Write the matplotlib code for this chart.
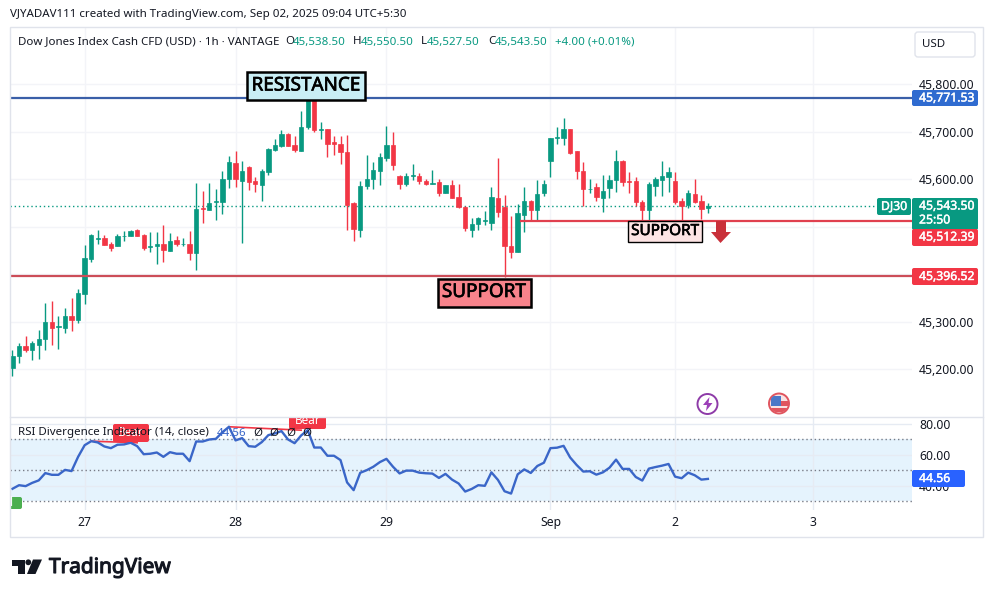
import matplotlib
matplotlib.use('Agg')
import matplotlib.pyplot as plt
import matplotlib.patheffects as pe
from matplotlib.patches import FancyBboxPatch, Rectangle, Circle, Polygon

plt.rcParams['font.family'] = ['Noto Sans', 'DejaVu Sans']

# candles
opens = [45203,45227,45248,45240,45250,45264,45298,45288,45286,45311,45303,45358,45431,45474,45476,45463,45458,45479,45479,45492,
         45482,45456,45458,45463,45449,45472,45463,45463,45445,45539,45535,45551,45552,45600,45633,45596,45625,45596,45588,45615,
         45661,45669,45695,45672,45660,45709,45775,45704,45706,45677,45674,45657,45550,45493,45585,45600,45617,45645,45671,45606,
         45589,45606,45606,45596,45590,45593,45571,45587,45562,45542,45493,45505,45512,45508,45561,45542,45459,45447,45525,45554,
         45535,45570,45637,45686,45687,45705,45658,45617,45579,45583,45561,45582,45598,45638,45596,45596,45552,45535,45586,45598,
         45604,45596,45554,45546,45569,45554,45538.5]
highs = [45239,45254,45269,45259,45283,45338,45343,45311,45328,45349,45368,45461,45484,45493,45482,45467,45484,45490,45492,45495,
         45484,45488,45489,45503,45486,45481,45475,45490,45591,45575,45591,45580,45617,45648,45659,45638,45627,45605,45622,45665,
         45684,45703,45696,45691,45743,45785,45785,45719,45706,45691,45691,45693,45552,45596,45651,45635,45654,45712,45698,45608,
         45612,45632,45613,45599,45620,45599,45587,45598,45589,45544,45517,45521,45533,45583,45644,45566,45522,45547,45583,45556,
         45598,45598,45686,45710,45728,45705,45659,45635,45601,45592,45608,45608,45661,45639,45615,45604,45556,45594,45604,45638,
         45625,45615,45559,45577,45600,45566,45550.5]
lows = [45185,45213,45236,45219,45222,45239,45250,45242,45276,45281,45297,45337,45426,45464,45461,45449,45458,45470,45479,45480,
        45450,45447,45421,45426,45448,45458,45459,45429,45408,45508,45535,45514,45526,45582,45584,45466,45577,45573,45554,45608,
        45658,45668,45669,45657,45660,45706,45698,45684,45647,45651,45632,45493,45470,45477,45579,45579,45587,45637,45618,45580,
        45585,45598,45590,45587,45590,45564,45571,45561,45540,45491,45477,45493,45503,45493,45519,45394,45434,45447,45489,45514,
        45514,45564,45605,45674,45672,45653,45600,45543,45571,45554,45531,45561,45573,45586,45570,45543,45512,45512,45565,45565,
        45573,45547,45512,45538,45550,45515,45527.5]
closes = [45227,45248,45239,45254,45264,45298,45287,45290,45311,45303,45359,45433,45482,45476,45462,45455,45480,45480,45490,45481,
          45455,45458,45463,45450,45469,45463,45464,45445,45536,45537,45549,45553,45601,45635,45599,45617,45593,45589,45617,45663,
          45672,45694,45670,45661,45709,45775,45703,45705,45674,45673,45656,45545,45495,45585,45601,45619,45646,45671,45630,45590,
          45606,45608,45596,45590,45591,45571,45587,45561,45541,45496,45505,45518,45513,45562,45531,45460,45446,45528,45553,45535,
          45568,45590,45686,45688,45705,45654,45616,45580,45580,45563,45575,45598,45638,45594,45594,45552,45535,45590,45600,45606,
          45615,45552,45543,45571,45552,45537,45543.5]

rsi_vals = [38.2,40.5,39.9,42.0,43.6,48.3,47.2,47.2,50.4,49.6,58.8,66.3,68.9,68.1,65.5,64.4,66.6,66.8,67.9,65.7,
            60.5,60.8,61.6,58.8,61.8,60.8,60.8,56.0,68.7,68.7,70.0,70.4,74.7,78.2,69.4,70.9,65.7,65.3,68.3,72.8,
            73.9,75.4,70.0,67.6,72.6,76.0,64.8,64.8,59.5,59.5,56.7,42.3,37.3,48.5,50.2,52.4,55.4,57.5,52.4,48.1,
            49.9,49.9,48.6,48.2,48.0,45.2,47.8,44.1,41.6,36.4,38.1,40.5,40.1,48.8,43.9,36.6,35.1,47.5,50.7,48.4,
            52.9,55.0,64.4,64.7,65.9,58.4,53.5,49.3,49.5,47.3,48.8,51.8,57.0,51.0,51.0,45.8,43.5,51.2,52.2,53.1,
            54.2,46.0,45.0,48.6,46.9,44.1,44.56]

price_ticks = [45200,45300,45400,45500,45600,45700,45800]
hidden_ticks = [45400,45500]
rsi_ticks = [40,60,80]
rsi_levels = [30,50,70]
time_pos = [11,34,57,82,101,122]
time_labels = ['27','28','29','Sep','2','3']

resistance = 45771.53
support_low = 45396.52
support_high = 45512.39
last_price = 45543.50

GREEN = '#089981'
RED = '#f23645'
GRID = '#f3f4f8'
W, H = 993, 597

def px_axes(x0, y0, x1, y1):
    return fig.add_axes([x0/W, 1-y1/H, (x1-x0)/W, (y1-y0)/H])

def tag(a, x0, y0, x1, y1, color, r=2, **kw):
    p = FancyBboxPatch((x0+r, y0+r), x1-x0-2*r, y1-y0-2*r, boxstyle='round,pad=%d,rounding_size=%d' % (r, r),
                       fc=color, ec='none', transform=ov.transData, **kw)
    a.add_patch(p)
    return p

def tag_text(x, y, s, **kw):
    t = ov.text(x, y, s, fontsize=8.8, color='white', va='center', **kw)
    t.set_path_effects([pe.withStroke(linewidth=0.3, foreground='white')])

def heavy_text(x, y, s, size):
    t = ov.text(x, y, s, fontsize=size, color='black', ha='center', va='center')
    t.set_path_effects([pe.withStroke(linewidth=0.5, foreground='black')])

fig = plt.figure(figsize=(W/100, H/100), dpi=100, facecolor='white')
ax = px_axes(10, 27, 912, 417)
rs = px_axes(10, 417, 912, 510)
ov = px_axes(0, 0, W, H)
ov.set_xlim(0, W)
ov.set_ylim(H, 0)
ov.axis('off')
ov.set_zorder(5)
ov.patch.set_alpha(0)

# main pane
xr = (-0.38, 137.11)
ax.set_xlim(xr)
ax.set_ylim(45099, 45920)
ax.set_yticks(price_ticks)
ax.set_yticklabels(['' if v in hidden_ticks else '{:,.2f}'.format(v) for v in price_ticks], fontsize=8.8, color='#131722')
ax.yaxis.tick_right()
ax.set_xticks(time_pos)
ax.set_xticklabels([])
ax.tick_params(length=0, pad=5)
ax.grid(True, color=GRID, lw=1)
ax.set_axisbelow(True)
for s in ax.spines.values():
    s.set_visible(False)

xs = list(range(len(opens)))
cols = [GREEN if c >= o else RED for o, c in zip(opens, closes)]
ax.vlines(xs, lows, highs, colors=cols, lw=1, zorder=3)
ax.bar(xs, [c-o for o, c in zip(opens, closes)], bottom=opens, width=0.66, color=cols, edgecolor=cols, lw=0.5, zorder=4)

ax.plot([xr[0], 131.6], [last_price, last_price], color=GREEN, lw=1, ls=(0, (1, 2)), zorder=2)
ax.axhline(resistance, color='#3a5fa8', lw=1.6, zorder=5)
ax.axhline(support_low, color='#cc4d58', lw=1.6, zorder=5)
ax.plot([77.5, xr[1]], [support_high, support_high], color='#e0404f', lw=1.6, zorder=5)

# rsi pane
rs.set_xlim(xr)
rs.set_ylim(24.5, 84.5)
rs.axhspan(rsi_levels[0], rsi_levels[2], color='#e3f2fd', alpha=0.9, lw=0, zorder=0)
rs.set_yticks(rsi_ticks)
rs.set_yticklabels(['%.2f' % v for v in rsi_ticks], fontsize=8.8, color='#131722')
rs.yaxis.tick_right()
rs.set_xticks(time_pos)
rs.set_xticklabels(time_labels, fontsize=8.8, color='#131722')
rs.tick_params(length=0)
rs.tick_params(axis='x', pad=4.5)
rs.tick_params(axis='y', pad=5)
rs.grid(True, color='#e6ebf3', lw=1)
rs.set_axisbelow(True)
for s in rs.spines.values():
    s.set_visible(False)
for v in rsi_levels:
    rs.axhline(v, color='#787b86', lw=1, ls=(0, (1, 2)), zorder=1)
rs.plot(xs, rsi_vals, color='#3a66c8', lw=1.7, zorder=3, solid_joinstyle='round')
rs.plot([12, 19], [rsi_vals[12], rsi_vals[18]], color=RED, lw=1.2, zorder=2)
rs.plot([33, 44], [rsi_vals[33], rsi_vals[45]], color=RED, lw=1.2, zorder=2)

tag(rs, 113, 424, 149, 442, RED, zorder=4)
rs.text(131, 433, 'Bear', transform=ov.transData, color='white', fontsize=8.5, ha='center', va='center', zorder=5, clip_on=True)
tag(rs, 289, 410, 326, 429, RED, zorder=4)
rs.text(307.5, 421, 'Bear', transform=ov.transData, color='white', fontsize=8.5, ha='center', va='center', zorder=5, clip_on=True)
tag(rs, 0, 497, 22, 509, '#4caf50', zorder=4)
rs.text(-7, 503, 'Bull', transform=ov.transData, color='white', fontsize=8.5, ha='left', va='center', zorder=5, clip_on=True)

# frame
ov.add_patch(Rectangle((10, 27), 973, 510, fc='none', ec='#e0e3eb', lw=1))
ov.plot([10, 983], [417, 417], color='#e0e3eb', lw=1)

# header
ov.text(10, 14, 'VJYADAV111 created with TradingView.com, Sep 02, 2025 09:04 UTC+5:30', fontsize=8.3, color='#131722', va='center')
ov.text(18, 42, 'Dow Jones Index Cash CFD (USD) · 1h · VANTAGE', fontsize=8.3, color='#131722', va='center')
for x, off, lab, val in [(285, 8, 'O', '45,538.50'), (353, 8, 'H', '45,550.50'), (421, 6, 'L', '45,527.50'), (488, 7, 'C', '45,543.50')]:
    ov.text(x, 42, lab, fontsize=8.3, color='#131722', va='center')
    ov.text(x+off, 42, val, fontsize=8.3, color=GREEN, va='center')
ov.text(555, 42, '+4.00 (+0.01%)', fontsize=8.3, color=GREEN, va='center')
ov.add_patch(FancyBboxPatch((917, 34), 56, 21, boxstyle='round,pad=2,rounding_size=3', fc='white', ec='#e0e3eb', lw=1))
ov.text(934, 44.5, 'USD', fontsize=8.3, color='#131722', ha='center', va='center')

# price tags
tag(ov, 912, 90, 978, 106, '#2f6bd0')
tag_text(919, 98, '45,771.53')
tag(ov, 912, 198, 978, 230, GREEN)
tag_text(919, 206, '45,543.50')
tag_text(919, 220, '25:50')
tag(ov, 877, 198, 911, 215, GREEN)
tag_text(894, 206.5, 'DJ30', ha='center')
tag(ov, 912, 229, 978, 246, RED)
tag_text(919, 237, '45,512.39')
tag(ov, 912, 268, 978, 285, RED)
tag_text(919, 276.5, '45,396.52')
tag(ov, 912, 470, 965, 487, '#2962ff')
tag_text(919, 478.5, '44.56')

# hand drawn labels
ov.add_patch(Rectangle((247, 72), 118, 28, fc='#c9eef5', ec='black', lw=1.8))
heavy_text(306, 85.5, 'RESISTANCE', 13.6)
ov.add_patch(Rectangle((438, 279), 93, 28, fc='#f7838b', ec='black', lw=1.8))
heavy_text(484, 292, 'SUPPORT', 13.6)
ov.add_patch(Rectangle((628, 221), 74, 21, fc='#fde4e4', ec='black', lw=1))
heavy_text(665, 231.5, 'SUPPORT', 11)
ov.add_patch(Polygon([(716, 221), (726, 221), (726, 232), (731, 232), (720.5, 243), (711, 232), (716, 232)], fc='#c9303a', ec='none'))

# rsi legend
ov.text(18, 433, 'RSI Divergence Indicator (14, close)', fontsize=8.3, color='#131722', va='center')
ov.text(217, 433, '44.56', fontsize=8.3, color='#3a66c8', va='center')
for x in [253, 269, 286, 302]:
    ov.text(x, 433, 'Ø', fontsize=8.3, color='#131722', va='center')

# event icons
ov.add_patch(Circle((707.5, 404), 10, fc='white', ec='#8e3ba8', lw=1.4))
ov.add_patch(Polygon([(709.5, 397), (703, 405), (707, 405), (706, 411), (712.5, 403), (708.5, 403)], fc='#9c3fb8', ec='none'))
flag = Circle((779, 403.5), 10, fc='#f9e3e3', ec='#e0555f', lw=1.4)
ov.add_patch(flag)
for box in [((771, 401), 18, 4.7, '#e0555f'), ((771, 396), 9.7, 9.7, '#4a78c8'), ((771, 408), 18, 3.7, '#e0555f')]:
    p = Rectangle(box[0], box[1], box[2], fc=box[3], ec='none')
    ov.add_patch(p)
    p.set_clip_path(Circle((779, 403.5), 9.3, transform=ov.transData))

# logo
ov.add_patch(Polygon([(12, 559.5), (25, 559.5), (25, 574), (18, 574), (18, 565.5), (12, 565.5)], fc='#131722', ec='none'))
ov.add_patch(Circle((28.3, 562.3), 2.9, fc='#131722', ec='none'))
ov.add_patch(Polygon([(33, 559.5), (42, 559.5), (35.5, 574), (27, 574)], fc='#131722', ec='none'))
logo = ov.text(49, 567.5, 'TradingView', fontsize=15, color='#131722', va='center')
logo.set_path_effects([pe.withStroke(linewidth=0.8, foreground='#131722')])

fig.savefig('out.png', dpi=100)
